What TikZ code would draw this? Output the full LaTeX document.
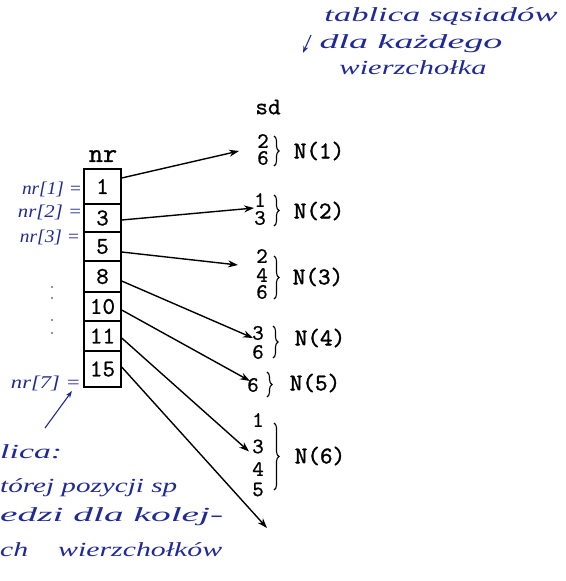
\documentclass[tikz,border=0pt]{standalone}
\usepackage{fontspec}
\usepackage{graphicx}
\usetikzlibrary{arrows.meta,decorations.pathreplacing}
\newfontfamily\monofnt{lmmono10-regular}[Extension=.otf,FakeBold=0.8]
\newfontfamily\monobf{lmmono10-regular}[Extension=.otf,FakeBold=1.3]
\newfontfamily\handfnt{Liberation Serif}
\definecolor{ink}{RGB}{32,42,150}
\newcommand\hwtext[2]{\resizebox{#1}{\height}{\handfnt\itshape #2}}
\tikzset{
  cell/.style={draw, line width=1.4pt, minimum width=37pt, inner sep=0pt,
               font=\monofnt\fontsize{24}{24}\selectfont},
  digit/.style={inner sep=0pt, font=\monofnt\fontsize{22}{22}\selectfont},
  nlabel/.style={inner sep=0pt, font=\monobf\fontsize{24}{24}\selectfont},
  title/.style={inner sep=0pt, font=\monofnt\fontsize{27}{27}\selectfont},
  hand/.style={inner sep=0pt, text=ink, font=\fontsize{20}{20}\selectfont},
  handsmall/.style={inner sep=0pt, text=ink, font=\fontsize{18}{18}\selectfont},
  arr/.style={line width=1.4pt, -{Stealth[length=10pt,width=7pt]}},
  harr/.style={ink, line width=1.1pt, -{Stealth[length=7pt,width=5pt]}},
  brc/.style={line width=1.1pt, decorate, decoration={brace, amplitude=5pt}},
  dot/.style={circle, fill=ink!70, inner sep=0pt, minimum size=2.4pt}
}
\begin{document}
\begin{tikzpicture}[x=1pt,y=-1pt]
\useasboundingbox[fill=white] (0,0) rectangle (565,581);

% array nr
\node[title] (nr) at (103,156) {nr};
\node[cell, minimum height=35pt] (b1) at (102.5,186.5) {1};
\node[cell, minimum height=28pt] (b2) at (102.5,218) {3};
\node[cell, minimum height=29pt] (b3) at (102.5,246.5) {5};
\node[cell, minimum height=31pt] (b4) at (102.5,276.5) {8};
\node[cell, minimum height=29pt] (b5) at (102.5,306.5) {10};
\node[cell, minimum height=30pt] (b6) at (102.5,336) {11};
\node[cell, minimum height=36pt] (b7) at (102.5,369) {15};

% array sd
\node[title, font=\monofnt\fontsize{24}{24}\selectfont] (sd) at (268,107) {sd};

\node[digit] (d1a) at (263,141) {2};
\node[digit] (d1b) at (263,158) {6};
\node[nlabel] (n1) at (319,151) {N(1)};
\draw[brc] (274,136) -- (274,166);

\node[digit] (d2a) at (260,200) {1};
\node[digit] (d2b) at (260,218) {3};
\node[nlabel] (n2) at (319,211) {N(2)};
\draw[brc] (274,195) -- (274,226);

\node[digit] (d3a) at (262,256) {2};
\node[digit] (d3b) at (262,275) {4};
\node[digit] (d3c) at (262,292) {6};
\node[nlabel] (n3) at (318,277) {N(3)};
\draw[brc] (274,256) -- (274,299);

\node[digit] (d4a) at (258,333) {3};
\node[digit] (d4b) at (258,352) {6};
\node[nlabel] (n4) at (320,338) {N(4)};
\draw[brc] (273,326) -- (273,358);

\node[digit] (d5) at (253,385) {6};
\node[nlabel] (n5) at (315,383) {N(5)};
\draw[brc] (267,372) -- (267,397);

\node[digit] (d6a) at (258,420) {1};
\node[digit] (d6b) at (258,446.5) {3};
\node[digit] (d6c) at (258,469) {4};
\node[digit] (d6d) at (258,489.5) {5};
\node[nlabel] (n6) at (320,456) {N(6)};
\draw[brc] (274,423) -- (274,490);

\coordinate (e7) at (267,528);

% connectors
\draw[arr] ([yshift=8.5pt]b1.east) -- ([xshift=-18pt,yshift=-10pt]d1a.west);
\draw[arr] ([yshift=-2pt]b2.east) -- ([yshift=-8pt]d2a.west);
\draw[arr] ([yshift=-5.5pt]b3.east) -- ([xshift=-18pt,yshift=-9pt]d3a.west);
\draw[arr] ([yshift=-4.5pt]b4.east) -- ([xshift=1pt,yshift=-5pt]d4a.west);
\draw[arr] ([yshift=-3.5pt]b5.east) -- ([xshift=3pt,yshift=4pt]d5.west);
\draw[arr] ([yshift=-2pt]b6.east) -- ([xshift=-3pt,yshift=-5pt]d6b.west);
\draw[arr] ([yshift=2pt]b7.east) -- (e7);

% handwritten labels on the left
\node[handsmall] (l1) at (52,189) {\hwtext{60pt}{nr[1] =}};
\node[handsmall] (l2) at (50,212) {\hwtext{64pt}{nr[2] =}};
\node[handsmall] (l3) at (50,237) {\hwtext{60pt}{nr[3] =}};
\node[dot] (p1) at (52,287) {};
\node[dot] (p2) at (52,298) {};
\node[dot] (p3) at (52,320) {};
\node[dot] (p4) at (52,333) {};
\node[handsmall] (l7) at (46,383) {\hwtext{70pt}{nr[7] =}};

\coordinate (s1) at (45,428);
\coordinate (s2) at (72,391);
\draw[harr] (s1) -- (s2);

% bottom-left note (cut at the left edge)
\node[hand, anchor=west] (c1) at (0,452) {\hwtext{62pt}{lica:}};
\node[hand, anchor=west] (c2) at (0,488) {\hwtext{177pt}{tórej pozycji sp}};
\node[hand, anchor=west] (c3) at (0,517) {\hwtext{223pt}{edzi dla kolej-}};
\node[hand, anchor=west] (c4) at (0,550) {\hwtext{222pt}{ch\quad wierzchołków}};

% top-right note
\node[hand] (t1) at (441,17) {\hwtext{233pt}{tablica sąsiadów}};
\node[hand] (t2) at (411,44) {\hwtext{183pt}{dla każdego}};
\node[hand] (t3) at (413,68) {\hwtext{147pt}{wierzchołka}};
\coordinate (u1) at (311,35);
\coordinate (u2) at (303,53);
\draw[harr] (u1) -- (u2);
\end{tikzpicture}
\end{document}
